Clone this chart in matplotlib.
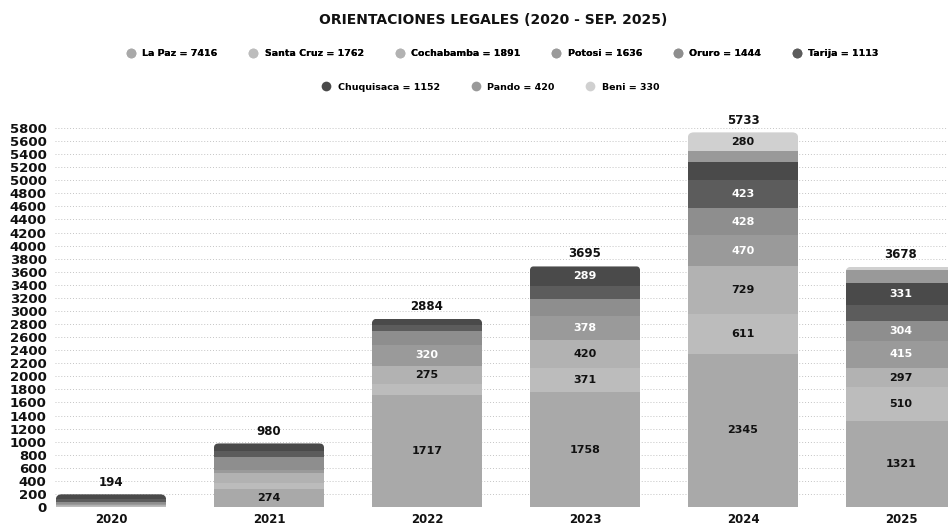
import matplotlib
matplotlib.use("Agg")
import matplotlib.pyplot as plt
import numpy as np
from matplotlib.lines import Line2D
from matplotlib.patches import FancyBboxPatch

plt.rcParams['font.family'] = ['DejaVu Sans']

years = ["2020", "2021", "2022", "2023", "2024", "2025"]
departments = ["La Paz", "Santa Cruz", "Cochabamba", "Potosi", "Oruro",
               "Tarija", "Chuquisaca", "Pando", "Beni"]

la_paz     = [1, 274, 1717, 1758, 2345, 1321]
santa_cruz = [10, 90, 170, 371, 611, 510]
cochabamba = [20, 150, 275, 420, 729, 297]
potosi     = [8, 45, 320, 378, 470, 415]
oruro      = [40, 210, 207, 255, 428, 304]
tarija     = [45, 95, 96, 204, 423, 250]
chuquisaca = [70, 106, 89, 289, 267, 331]
pando      = [0, 10, 10, 20, 180, 200]
beni       = [0, 0, 0, 0, 280, 50]

series = [la_paz, santa_cruz, cochabamba, potosi, oruro,
          tarija, chuquisaca, pando, beni]
colors = ["#a9a9a9", "#bcbcbc", "#b2b2b2", "#9a9a9a", "#8e8e8e",
          "#5c5c5c", "#4a4a4a", "#999999", "#d0d0d0"]
label_colors = ["#111111", "#111111", "#111111", "white", "white",
                "white", "white", "white", "#111111"]
yticks = list(range(0, 5801, 200))

W, H = 948, 525
fig = plt.figure(figsize=(W / 100, H / 100), dpi=100)
ax = fig.add_axes([55 / W, 1 - 507 / H, 1 - 55 / W, (507 - 128) / H])

x = np.arange(len(years))
width = 0.70
totals = np.sum(np.array(series), axis=0)

# rounded top corners: clip every segment with a rounded box of the whole bar
px_x = 158.0
px_y = (507 - 128) / 5800.0
r = 6.0
clips = []
for i in range(len(years)):
    cp = FancyBboxPatch((x[i] - width / 2, -1000), width, totals[i] + 1000,
                        boxstyle="round,pad=0,rounding_size=%f" % (r / px_x),
                        mutation_aspect=(px_x / px_y),
                        transform=ax.transData, facecolor="none", edgecolor="none")
    ax.add_patch(cp)
    clips.append(cp)

bottom = np.zeros(len(years))
for vals, col, lc in zip(series, colors, label_colors):
    vals = np.array(vals)
    bars = ax.bar(x, vals, width, bottom=bottom, color=col, edgecolor="none", zorder=2)
    for i, b in enumerate(bars):
        b.set_clip_path(clips[i])
        if vals[i] >= 270:
            ax.text(x[i], bottom[i] + vals[i] / 2, str(vals[i]), ha="center", va="center",
                    fontsize=8, fontweight="bold", color=lc, zorder=3)
    bottom += vals

for i in range(len(years)):
    ax.text(x[i], totals[i] + 80, str(totals[i]), ha="center", va="bottom",
            fontsize=8.5, fontweight="bold", color="#111111", clip_on=False)

ax.set_xlim(-56 / px_x, -56 / px_x + (W - 55) / px_x)
ax.set_ylim(0, 5800)
ax.set_yticks(yticks)
ax.set_yticklabels([str(t) for t in yticks], fontsize=9.5, fontweight="bold")
ax.set_xticks(x)
ax.set_xticklabels(years, fontsize=8.5, fontweight="bold")
ax.tick_params(axis="both", length=0, colors="#111111")
ax.tick_params(axis="y", pad=6)
ax.tick_params(axis="x", pad=4)
ax.grid(axis="y", linestyle=(0, (1, 2)), color="#c4c4c4", linewidth=0.7, zorder=0)
for s in ax.spines.values():
    s.set_visible(False)

fig.text(493 / W, 1 - 20 / H, "ORIENTACIONES LEGALES (2020 - SEP. 2025)",
         ha="center", va="center", fontsize=10, fontweight="bold", color="#111111")

handles = [Line2D([], [], marker="o", linestyle="none", markersize=7,
                  markerfacecolor=c, markeredgecolor="none",
                  label="%s = %d" % (d, sum(v)))
           for d, c, v in zip(departments, colors, series)]
legend_font = {"size": 6.8, "weight": "bold"}
leg1 = fig.legend(handles=handles[:6], loc="center", bbox_to_anchor=(502 / W, 1 - 54 / H),
                  ncol=6, frameon=False, prop=legend_font,
                  handletextpad=0.6, columnspacing=3.2, handlelength=1.2)
fig.add_artist(leg1)
leg2 = fig.legend(handles=handles[6:], loc="center", bbox_to_anchor=(490 / W, 1 - 87 / H),
                  ncol=3, frameon=False, prop=legend_font,
                  handletextpad=0.6, columnspacing=3.2, handlelength=1.2)

fig.savefig("out.png", dpi=100)
